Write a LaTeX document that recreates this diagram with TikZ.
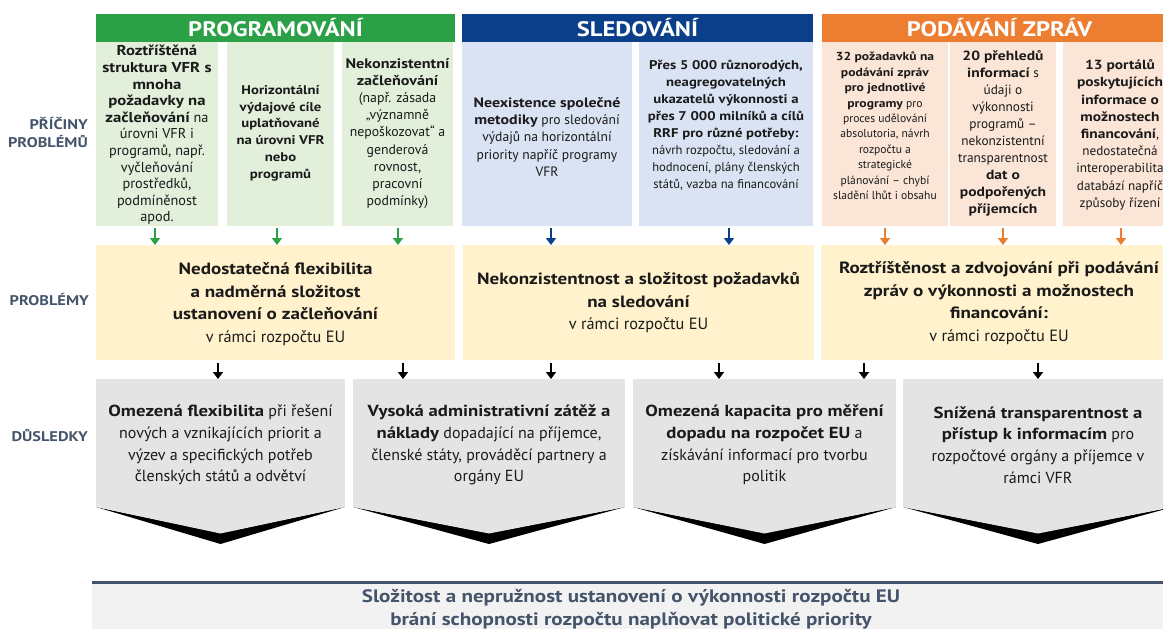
\documentclass[tikz,border=0pt]{standalone}
\usepackage{fontspec}
\setmainfont{PT Sans}[BoldFeatures={FakeStretch=1.17}]
\usetikzlibrary{arrows.meta,calc}
\definecolor{hgreen}{HTML}{2BA046}
\definecolor{lgreen}{HTML}{E2EFDA}
\definecolor{hblue}{HTML}{0B3F8A}
\definecolor{lblue}{HTML}{DAE3F3}
\definecolor{horange}{HTML}{ED7D31}
\definecolor{lorange}{HTML}{FBE5D6}
\definecolor{probfill}{HTML}{FFF2CC}
\definecolor{consfill}{HTML}{E4E4E4}
\definecolor{slate}{HTML}{44546A}
\definecolor{botfill}{HTML}{F2F2F2}
\definecolor{bodytext}{HTML}{1A1A1A}
\newcommand{\bt}[1]{\textbf{#1}}
\begin{document}
\begin{tikzpicture}[x=1pt,y=-1pt,
  box/.style={inner sep=0pt, outer sep=0pt, draw=none},
  hdr/.style={box, fill=#1, text=white, font=\fontsize{21}{24}\selectfont\bfseries, minimum height=28pt},
  cause/.style={box, fill=#1, minimum height=184pt},
  ctext/.style={align=center, inner sep=0pt, text=bodytext, font=\fontsize{13.5}{17}\selectfont},
  prob/.style={box, fill=probfill, minimum height=115pt},
  ptext/.style={align=center, inner sep=0pt, text=bodytext, font=\fontsize{16.3}{22.5}\selectfont},
  cons/.style={box, fill=consfill, minimum height=128pt},
  ktext/.style={align=center, inner sep=0pt, text=bodytext, font=\fontsize{16}{21.7}\selectfont},
  lbl/.style={align=right, anchor=east, inner sep=0pt, text=slate, font=\fontsize{14}{18}\selectfont\bfseries},
  arr/.style={line width=2.2pt, draw=#1, -{Triangle[width=10pt,length=7pt]}},
]
\useasboundingbox (0,0) rectangle (1163,629);
\clip (0,0) rectangle (1163,629);

% headers
\node[hdr=hgreen, minimum width=359pt] (hG) at (275.5,28) {PROGRAMOVÁNÍ};
\node[hdr=hblue, minimum width=351pt] (hB) at (637.5,28) {SLEDOVÁNÍ};
\node[hdr=horange, minimum width=355pt] (hO) at (999.5,28) {PODÁVÁNÍ ZPRÁV};

% cause boxes
\node[cause=lgreen, minimum width=122pt] (g1) at (157,134) {};
\node[cause=lgreen, minimum width=107pt] (g2) at (280.5,134) {};
\node[cause=lgreen, minimum width=111pt] (g3) at (397.5,134) {};
\node[cause=lblue, minimum width=170pt] (b1) at (547,134) {};
\node[cause=lblue, minimum width=174pt] (b2) at (726,134) {};
\node[cause=lorange, minimum width=126pt] (o1) at (885,134) {};
\node[cause=lorange, minimum width=106pt] (o2) at (1003,134) {};
\node[cause=lorange, minimum width=115pt] (o3) at (1120.5,134) {};

\node[ctext, font=\fontsize{14.3}{16.6}\selectfont] (tg1) at (157,135) {\bt{Roztříštěná}\\\bt{struktura VFR s}\\\bt{mnoha}\\\bt{požadavky na}\\\bt{začleňování} na\\úrovni VFR i\\programů, např.\\vyčleňování\\prostředků,\\podmíněnost\\apod.};
\node[ctext, font=\fontsize{12.6}{16.8}\selectfont] (tg2) at (280.5,133) {\bt{Horizontální}\\\bt{výdajové cíle}\\\bt{uplatňované}\\\bt{na úrovni VFR}\\\bt{nebo}\\\bt{programů}};
\node[ctext, font=\fontsize{13.8}{17.1}\selectfont] (tg3) at (397.5,133.5) {\bt{Nekonzistentní}\\\bt{začleňování}\\(např. zásada\\„významně\\nepoškozovat“ a\\genderová\\rovnost,\\pracovní\\podmínky)};
\node[ctext, font=\fontsize{13.6}{17.2}\selectfont] (tb1) at (547,137) {\bt{Neexistence společné}\\\bt{metodiky} pro sledování\\výdajů na horizontální\\priority napříč programy\\VFR};
\node[ctext, font=\fontsize{12.6}{17}\selectfont] (tb2) at (726,125.5) {\bt{Přes 5 000 různorodých,}\\\bt{neagregovatelných}\\\bt{ukazatelů výkonnosti a}\\\bt{přes 7 000 milníků a cílů}\\\bt{RRF pro různé potřeby:}\\návrh rozpočtu, sledování a\\hodnocení, plány členských\\států, vazba na financování};
\node[ctext, font=\fontsize{11.6}{15.4}\selectfont] (to1) at (885,126) {\bt{32 požadavků na}\\\bt{podávání zpráv}\\\bt{pro jednotlivé}\\\bt{programy} pro\\proces udělování\\absolutoria, návrh\\rozpočtu a\\strategické\\plánování – chybí\\sladění lhůt i obsahu};
\node[ctext, font=\fontsize{13.3}{17}\selectfont] (to2) at (1003,133) {\bt{20 přehledů}\\\bt{informací} s\\údaji o\\výkonnosti\\programů –\\nekonzistentní\\transparentnost\\\bt{dat o}\\\bt{podpořených}\\\bt{příjemcích}};
\node[ctext, font=\fontsize{13.2}{17.2}\selectfont] (to3) at (1120,135) {\bt{13 portálů}\\\bt{poskytujících}\\\bt{informace o}\\\bt{možnostech}\\\bt{financování},\\nedostatečná\\interoperabilita\\databází napříč\\způsoby řízení};

% problem boxes
\node[prob, minimum width=359pt] (p1) at (275.5,302.5) {};
\node[prob, minimum width=351pt] (p2) at (638.5,302.5) {};
\node[prob, minimum width=356pt] (p3) at (999,302.5) {};
\node[ptext] (tp1) at (275.5,304) {\bt{Nedostatečná flexibilita}\\\bt{a nadměrná složitost}\\\bt{ustanovení o začleňování}\\v rámci rozpočtu EU};
\node[ptext] (tp2) at (638.5,303) {\bt{Nekonzistentnost a složitost požadavků}\\\bt{na sledování}\\v rámci rozpočtu EU};
\node[ptext] (tp3) at (999,303) {\bt{Roztříštěnost a zdvojování při podávání}\\\bt{zpráv o výkonnosti a možnostech}\\\bt{financování:}\\v rámci rozpočtu EU};

% cause -> problem arrows
\coordinate (s1) at ($(g1.south)+(-2,0)$);
\coordinate (s2) at ($(g2.south)+(-3.5,0)$);
\coordinate (s3) at ($(g3.south)+(0.5,0)$);
\coordinate (s4) at ($(b1.south)+(4,0)$);
\coordinate (s5) at ($(b2.south)+(3,0)$);
\coordinate (s6) at (o1.south);
\coordinate (s7) at (o2.south);
\coordinate (s8) at ($(o3.south)+(0.5,0)$);
\draw[arr=hgreen, shorten <=2pt] (s1) -- (s1 |- p1.north);
\draw[arr=hgreen, shorten <=2pt] (s2) -- (s2 |- p1.north);
\draw[arr=hgreen, shorten <=2pt] (s3) -- (s3 |- p1.north);
\draw[arr=hblue, shorten <=2pt] (s4) -- (s4 |- p2.north);
\draw[arr=hblue, shorten <=2pt] (s5) -- (s5 |- p2.north);
\draw[arr=horange, shorten <=2pt] (s6) -- (s6 |- p3.north);
\draw[arr=horange, shorten <=2pt] (s7) -- (s7 |- p3.north);
\draw[arr=horange, shorten <=2pt] (s8) -- (s8 |- p3.north);

% consequence boxes
\node[cons, minimum width=249pt] (k1) at (220.5,443) {};
\node[cons, minimum width=272pt] (k2) at (489,443) {};
\node[cons, minimum width=263pt] (k3) at (764.5,443) {};
\node[cons, minimum width=270pt] (k4) at (1038,443) {};
\foreach \k in {k1,k2,k3,k4}{
  \fill[black] (\k.south west) -- ($(\k.south)+(0,37)$) -- (\k.south east) -- ($(\k.south)+(0,26)$) -- cycle;
  \fill[consfill] (\k.south west) -- ($(\k.south)+(0,26.5)$) -- (\k.south east) -- cycle;
}
\node[ktext] (tk1) at (220.5,445) {\bt{Omezená flexibilita} při řešení\\nových a vznikajících priorit a\\výzev a specifických potřeb\\členských států a odvětví};
\node[ktext] (tk2) at (489,445) {\bt{Vysoká administrativní zátěž a}\\\bt{náklady} dopadající na příjemce,\\členské státy, prováděcí partnery a\\orgány EU};
\node[ktext] (tk3) at (764.5,445) {\bt{Omezená kapacita pro měření}\\\bt{dopadu na rozpočet EU} a\\získávání informací pro tvorbu\\politik};
\node[ktext] (tk4) at (1038,445) {\bt{Snížená transparentnost a}\\\bt{přístup k informacím} pro\\rozpočtové orgány a příjemce v\\rámci VFR};

% problem -> consequence arrows
\coordinate (a1) at ($(p1.south west)+(122,0)$);
\coordinate (a2) at ($(p1.south west)+(307,0)$);
\coordinate (a3) at ($(p2.south west)+(88,0)$);
\coordinate (a4) at ($(p2.south west)+(256,0)$);
\coordinate (a5) at ($(p3.south west)+(43,0)$);
\coordinate (a6) at ($(p3.south west)+(217,0)$);
\draw[arr=black, shorten <=3pt] (a1) -- (a1 |- k1.north);
\draw[arr=black, shorten <=3pt] (a2) -- (a2 |- k2.north);
\draw[arr=black, shorten <=3pt] (a3) -- (a3 |- k2.north);
\draw[arr=black, shorten <=3pt] (a4) -- (a4 |- k3.north);
\draw[arr=black, shorten <=3pt] (a5) -- (a5 |- k3.north);
\draw[arr=black, shorten <=3pt] (a6) -- (a6 |- k4.north);

% row labels
\node[lbl] (l1) at (88,133) {PŘÍČINY\\PROBLÉMŮ};
\node[lbl] (l2) at (89,300) {PROBLÉMY};
\node[lbl] (l3) at (88,436) {DŮSLEDKY};

% bottom conclusion
\node[box, fill=botfill, minimum width=1071pt, minimum height=50pt, anchor=north west] (bot) at (92,582) {};
\draw[slate, line width=3pt] (bot.north west) -- (bot.north east);
\node[align=center, inner sep=0pt, text=slate, font=\fontsize{18}{23}\selectfont\bfseries] (tbot) at (631,609) {Složitost a nepružnost ustanovení o výkonnosti rozpočtu EU\\brání schopnosti rozpočtu naplňovat politické priority};
\end{tikzpicture}
\end{document}
